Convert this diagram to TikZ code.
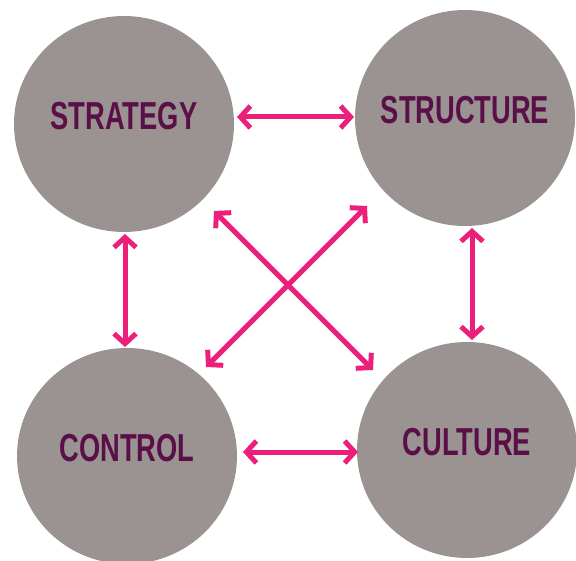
\documentclass[tikz,border=0pt]{standalone}
\usepackage{fontspec}
\newfontfamily\lblfont[FakeStretch=0.7]{Liberation Sans Bold}
\usetikzlibrary{arrows.meta,shapes.geometric}
\definecolor{discgray}{HTML}{9A9391}
\definecolor{lblpurple}{HTML}{5A0F48}
\definecolor{arrowpink}{HTML}{EC1F7A}
\begin{document}
\begin{tikzpicture}[x=1pt,y=-1pt,
  disc/.style={ellipse,fill=discgray,draw=none,minimum width=220pt,minimum height=216pt,inner sep=0pt},
  lbl/.style={text=lblpurple,font=\lblfont\fontsize{39}{39}\selectfont,inner sep=0pt,anchor=center},
  link/.style={draw=arrowpink,line width=5pt,{Straight Barb[length=10pt,width=22pt]}-{Straight Barb[length=10pt,width=22pt]}}]
\useasboundingbox (0,0) rectangle (576,561);
\node[disc] (strategy) at (124,124) {};
\node[disc] (structure) at (465,118) {};
\node[disc] (control) at (127,456) {};
\node[disc] (culture) at (467,450) {};
\node[lbl] (strategyT) at (124,116) {STRATEGY};
\node[lbl] (structureT) at (465,110) {STRUCTURE};
\node[lbl] (controlT) at (127,448) {CONTROL};
\node[lbl] (cultureT) at (467,442) {CULTURE};
% arrow end points
\coordinate (a1) at (237,117);
\coordinate (a2) at (354,117);
\coordinate (b1) at (243,452);
\coordinate (b2) at (358,452);
\coordinate (c1) at (125,234);
\coordinate (c2) at (125,347);
\coordinate (d1) at (472,228);
\coordinate (d2) at (472,340);
\coordinate (e1) at (214,211);
\coordinate (e2) at (373,370);
\coordinate (f1) at (367,206);
\coordinate (f2) at (206,367);
\draw[link] (a1) -- (a2);
\draw[link] (b1) -- (b2);
\draw[link] (c1) -- (c2);
\draw[link] (d1) -- (d2);
\draw[link] (e1) -- (e2);
\draw[link] (f1) -- (f2);
\end{tikzpicture}
\end{document}
